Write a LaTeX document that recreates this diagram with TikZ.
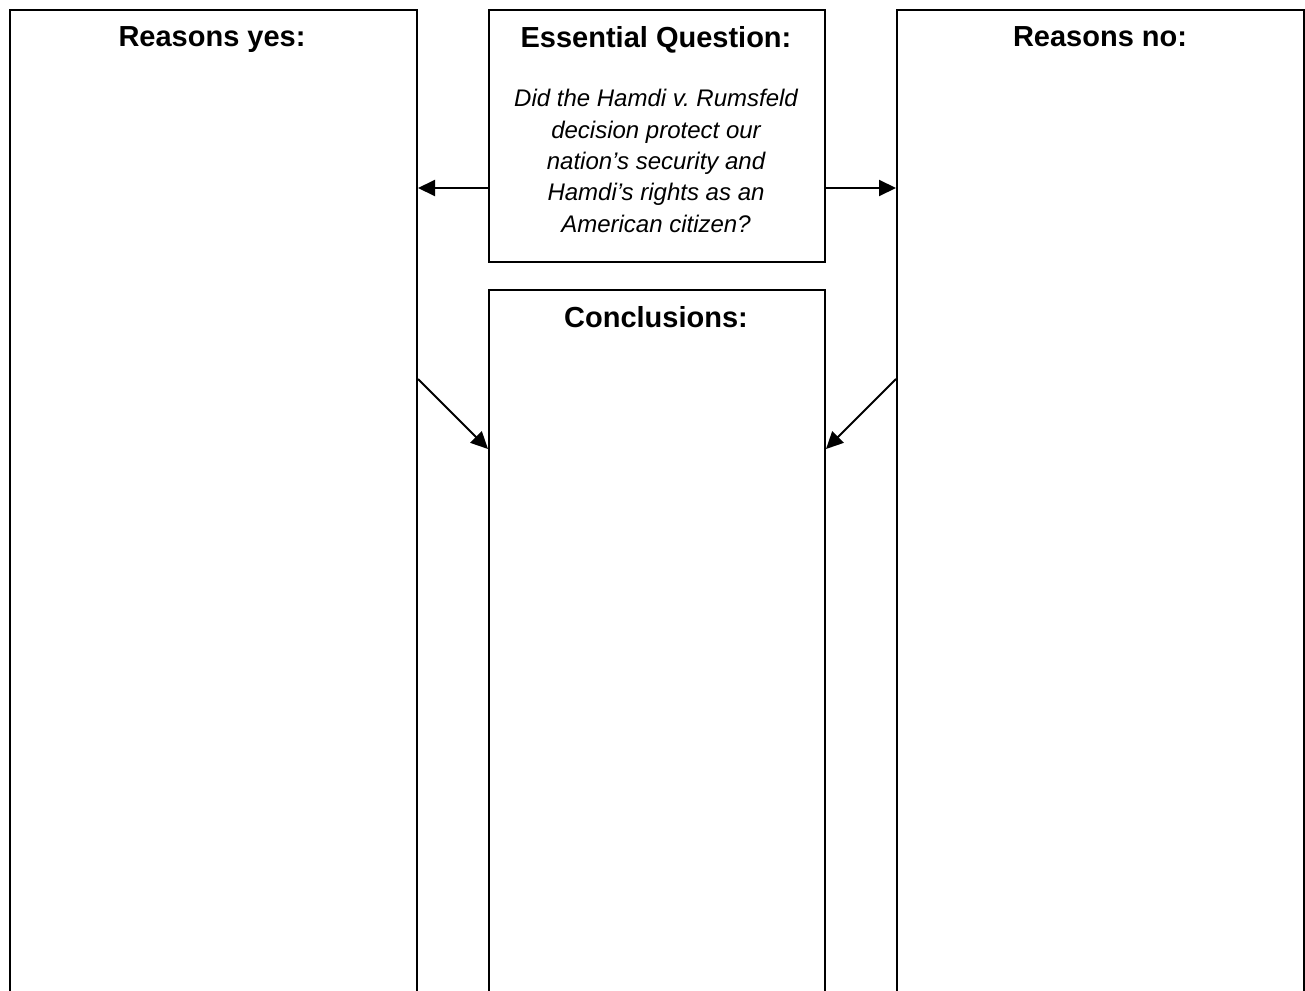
\documentclass[tikz,border=0pt]{standalone}
\usepackage{fontspec}
\setmainfont{Liberation Sans}
\usetikzlibrary{arrows.meta}
\frenchspacing
\begin{document}
\begin{tikzpicture}[x=1pt,y=-1pt,
  panel/.style={draw=black,line width=2pt,rectangle,anchor=north west,inner sep=0pt},
  title/.style={anchor=base,font=\bfseries\fontsize{29}{34}\selectfont},
  quest/.style={anchor=base,align=center,font=\itshape\fontsize{24}{31.3}\selectfont},
  arr/.style={line width=2pt,-{Triangle[length=17pt,width=16pt]}}]
\useasboundingbox (0,0) rectangle (1305,990);
\node[panel,minimum width=407.5pt,minimum height=1001pt] (yes) at (8.5,9) {};
\node[panel,minimum width=336pt,minimum height=252pt] (q) at (488,9) {};
\node[panel,minimum width=336pt,minimum height=721pt] (concl) at (488,289) {};
\node[panel,minimum width=407pt,minimum height=1001pt] (no) at (896,9) {};
\node[title] (tyes) at (212,47) {Reasons yes:};
\node[title] (tq) at (656,48) {Essential Question:};
\node[title] (tno) at (1100,47) {Reasons no:};
\node[title] (tc) at (656,327) {Conclusions:};
\node[quest] (qt) at (656,232) {Did the Hamdi v.\ Rumsfeld\\decision protect our\\nation’s security and\\Hamdi’s rights as an\\American citizen?};
\draw[arr] (q.west |- 0,188) -- (yes.east |- 0,188);
\draw[arr] (q.east |- 0,188) -- (no.west |- 0,188);
\draw[arr] (yes.east |- 0,379) -- (concl.west |- 0,449);
\draw[arr] (no.west |- 0,379) -- (concl.east |- 0,449);
\end{tikzpicture}
\end{document}
